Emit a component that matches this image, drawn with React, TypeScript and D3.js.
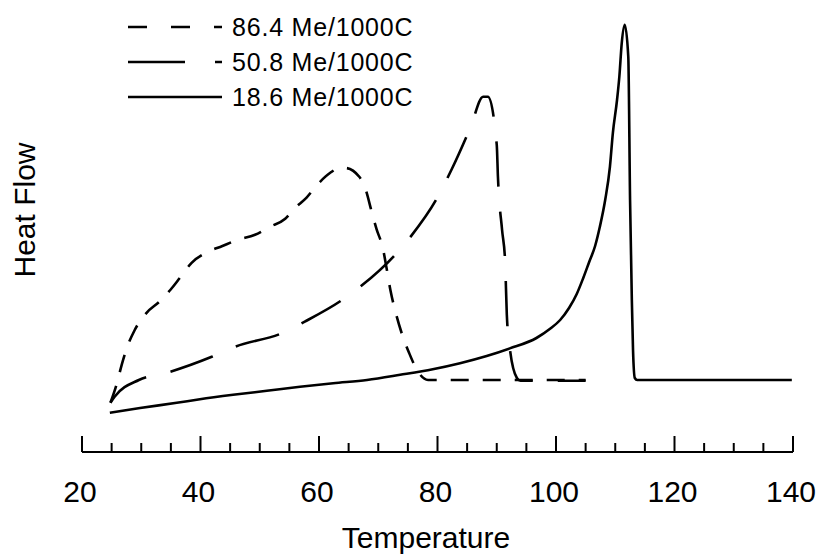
import React from 'react'
import * as d3 from 'd3'

// temperature (°C) / heat flow (arbitrary units)
const tempLow = [24.8, 25.9, 26.7, 27.5, 28.9, 30.9, 33.0, 34.9, 36.5, 38.5, 40.8, 43.7, 46.2, 49.2, 51.7, 54.3, 55.8, 57.9, 59.7, 61.9, 63.5, 64.4, 66.8, 67.9, 68.9, 69.7, 70.8, 71.4, 72.1, 72.9, 74.0, 75.2, 76.7, 78.4, 105]
const flowLow = [12.3, 17.2, 21.8, 25.7, 30.5, 34.8, 37.5, 40.5, 43.5, 47.3, 49.7, 51.5, 53, 54.3, 56.3, 58.3, 60.8, 63.6, 66.8, 69.8, 71, 71, 68.8, 65.5, 60, 55.8, 50.8, 46, 40.1, 35.1, 29.5, 24.8, 20.1, 18, 18]

const tempMid = [24.8, 25.5, 29.6, 34.3, 41.9, 45.8, 53.9, 57.6, 63.7, 67.2, 73.1, 75.6, 79.9, 82.4, 85.6, 87.7, 88.5, 90.0, 90.2, 90.9, 91.4, 91.7, 92.2, 93.4, 94.0, 105]
const flowMid = [12.3, 13.8, 18, 19.8, 23.8, 26.3, 29.8, 32.6, 37.8, 41.6, 49.7, 54.1, 63.4, 70.7, 81.3, 88.8, 88.8, 76.8, 68.8, 55.5, 48, 34.3, 26, 18.5, 17.8, 17.8]

const tempHigh = [24.7, 29.8, 36.0, 39.9, 45.5, 51.2, 56.8, 62.4, 68.1, 73.7, 79.2, 83.8, 88.3, 92.2, 96.7, 99.0, 100.7, 102.2, 103.5, 104.6, 105.6, 106.6, 107.4, 108.3, 109.1, 109.6, 110.3, 110.7, 111.1, 111.6, 112.2, 112.5, 112.8, 113.0, 113.3, 113.7, 139.8]
const flowHigh = [9.8, 11.0, 12.3, 13.2, 14.3, 15.3, 16.3, 17.2, 18.0, 19.3, 20.7, 22.2, 24.0, 25.9, 28.5, 30.8, 33.0, 36.0, 39.5, 43.5, 47.5, 51.5, 56.3, 63, 71.3, 79.8, 88, 94, 102.3, 106.8, 98.8, 63, 38, 25.5, 18.5, 18, 18]

const seriesNames = ['86.4 Me/1000C', '50.8 Me/1000C', '18.6 Me/1000C']
const curveDash = ['18,14', '45,25', null]
const legendDash = ['19,24', '57,30', null]

const xTicksMajor = [20, 40, 60, 80, 100, 120, 140]

const W = 825
const H = 554

export default function App() {
  const x = d3.scaleLinear().domain([20, 140]).range([82, 793])
  const y = d3.scaleLinear().domain([0, 110]).range([452, 12])

  const series = [
    tempLow.map((t, i) => [t, flowLow[i]]),
    tempMid.map((t, i) => [t, flowMid[i]]),
    tempHigh.map((t, i) => [t, flowHigh[i]]),
  ]

  const line = d3
    .line<number[]>()
    .x((d) => x(d[0]))
    .y((d) => y(d[1]))
    .curve(d3.curveMonotoneX)

  const minor = d3.range(20, 141, 5).filter((t) => t % 20 !== 0)
  const axisY = y(0)
  const font = 'Arial, "Liberation Sans", Helvetica, sans-serif'

  return (
    <svg
      width={W}
      height={H}
      style={{ position: 'absolute', left: 0, top: 0, background: '#fff' }}
      fontFamily={font}
    >
      {/* curves */}
      {series.map((s, i) => (
        <path
          key={i}
          d={line(s) || ''}
          fill="none"
          stroke="#000"
          strokeWidth={2.6}
          strokeDasharray={curveDash[i] || undefined}
          strokeLinejoin="round"
        />
      ))}

      {/* x axis */}
      <line x1={x(20)} x2={x(140)} y1={axisY} y2={axisY} stroke="#000" strokeWidth={2} />
      {xTicksMajor.map((t) => (
        <g key={t}>
          <line x1={x(t)} x2={x(t)} y1={axisY} y2={axisY - 16} stroke="#000" strokeWidth={2} />
          <text x={x(t) - 2} y={502} textAnchor="middle" fontSize={30} fill="#000">
            {t}
          </text>
        </g>
      ))}
      {minor.map((t) => (
        <line key={t} x1={x(t)} x2={x(t)} y1={axisY} y2={axisY - 9} stroke="#000" strokeWidth={2} />
      ))}
      <text x={426} y={548} textAnchor="middle" fontSize={30} fill="#000">
        Temperature
      </text>

      {/* y label */}
      <text
        transform="translate(35,210) rotate(-90)"
        textAnchor="middle"
        fontSize={30}
        fill="#000"
      >
        Heat Flow
      </text>

      {/* legend */}
      {seriesNames.map((name, i) => (
        <g key={name} transform={`translate(0,${27 + i * 35})`}>
          <line
            x1={128}
            x2={222}
            y1={0}
            y2={0}
            stroke="#000"
            strokeWidth={2.6}
            strokeDasharray={legendDash[i] || undefined}
          />
          <text x={232} y={9} fontSize={25} letterSpacing={0.8} fill="#000">
            {name}
          </text>
        </g>
      ))}
    </svg>
  )
}
